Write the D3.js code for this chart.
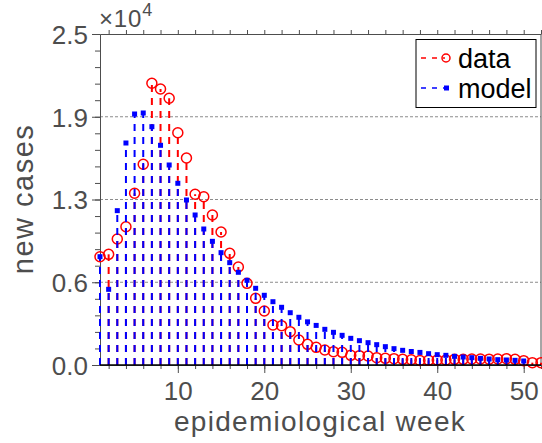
<!DOCTYPE html>
<html>
<head>
<meta charset="utf-8">
<script src="https://cdn.jsdelivr.net/npm/d3@7"></script>
<style>
    body { margin: 0; background: #fff; }
    svg { display: block; font-family: "Liberation Sans", Arial, sans-serif; }
</style>
</head>
<body>
<div id="chart"></div>
<script>
const width = 542;
const height = 443;
const margin = {top: 34, right: 1, bottom: 78, left: 100};

const weeks = d3.range(1, 53);
const dataCases = [8180, 8360, 9517, 10446, 12968, 15159, 21277, 20846, 20143, 17546,
    15635, 12893, 12712, 11330, 10045, 8435, 7402, 6170, 5036, 4079,
    3021, 2970, 2517, 1888, 1561, 1334, 1133, 1007, 957, 730,
    705, 680, 554, 503, 478, 428, 400, 340, 352, 378,
    378, 428, 428, 453, 453, 440, 453, 478, 428, 327,
    176, 176];
const modelCases = [8180, 5715, 11657, 16767, 18958, 19034, 18000, 16592, 15106, 13724,
    12462, 11330, 10272, 9340, 8485, 7730, 7002, 6397, 5793, 5265,
    4781, 4358, 3950, 3604, 3260, 2990, 2694, 2468, 2241, 2014,
    1838, 1687, 1536, 1385, 1234, 1108, 1020, 950, 856, 780,
    730, 654, 604, 554, 503, 453, 403, 378, 352, 302];
const yTicks = [0, 6250, 12500, 18750, 25000];
const yTickLabels = ["0.0", "0.6", "1.3", "1.9", "2.5"];
const xTicks = [10, 20, 30, 40, 50];

const textColor = "#4d4d4d";

const svg = d3.select("#chart").append("svg")
    .attr("width", width)
    .attr("height", height);

const x = d3.scaleLinear().domain([1, 52]).range([margin.left, width - margin.right]);
const y = d3.scaleLinear().domain([0, 25000]).range([height - margin.bottom, margin.top]);

// grid
svg.append("g")
    .selectAll("line")
    .data(yTicks.slice(1, -1))
    .enter()
    .append("line")
    .attr("x1", x(1)).attr("x2", x(52))
    .attr("y1", d => y(d)).attr("y2", d => y(d))
    .attr("stroke", "#8c8c8c")
    .attr("stroke-width", 1)
    .attr("stroke-dasharray", "3,2");

// axes
function styleAxis(g) {
    g.select(".domain").attr("stroke", textColor);
    g.selectAll(".tick line").attr("stroke", textColor);
    g.selectAll(".tick text").attr("fill", textColor).style("font-size", "26px");
}

svg.append("g")
    .attr("transform", `translate(${margin.left},0)`)
    .call(d3.axisLeft(y).tickValues(d3.range(0, 25001, 1250)).tickSize(5).tickSizeOuter(0).tickFormat(""))
    .call(styleAxis);
svg.append("g")
    .attr("transform", `translate(${margin.left},0)`)
    .call(d3.axisLeft(y).tickValues(yTicks).tickSize(8).tickSizeOuter(0)
        .tickFormat((d, i) => yTickLabels[i]).tickPadding(4))
    .call(styleAxis)
    .call(g => g.selectAll(".tick text").attr("dy", "0.36em"));

svg.append("g")
    .attr("transform", `translate(0,${y(0)})`)
    .call(d3.axisBottom(x).tickValues(d3.range(2, 53, 2)).tickSize(4).tickSizeOuter(0).tickFormat(""))
    .call(styleAxis);
svg.append("g")
    .attr("transform", `translate(0,${y(0)})`)
    .call(d3.axisBottom(x).tickValues(xTicks).tickSize(8).tickSizeOuter(0).tickPadding(9))
    .call(styleAxis)
    .call(g => g.select(".domain").remove());

svg.append("g")
    .attr("transform", `translate(0,${margin.top})`)
    .call(d3.axisTop(x).tickValues(d3.range(2, 53, 2)).tickSize(4).tickSizeOuter(0).tickFormat(""))
    .call(styleAxis);

svg.append("line")
    .attr("x1", x(52)).attr("x2", x(52))
    .attr("y1", y(0)).attr("y2", y(25000))
    .attr("stroke", textColor);

// stems
function drawStems(values, color) {
    svg.append("g")
        .selectAll("line")
        .data(values)
        .enter()
        .append("line")
        .attr("x1", (d, i) => x(weeks[i])).attr("x2", (d, i) => x(weeks[i]))
        .attr("y1", y(0)).attr("y2", d => y(d))
        .attr("stroke", color)
        .attr("stroke-width", 2)
        .attr("stroke-dasharray", "7,6");
}

drawStems(dataCases, "#ff0000");
svg.append("g")
    .selectAll("circle")
    .data(dataCases)
    .enter()
    .append("circle")
    .attr("cx", (d, i) => x(weeks[i]))
    .attr("cy", d => y(d))
    .attr("r", 5)
    .attr("fill", "none")
    .attr("stroke", "#ff0000")
    .attr("stroke-width", 1.5);

drawStems(modelCases, "#0000ff");
svg.append("g")
    .selectAll("rect")
    .data(modelCases)
    .enter()
    .append("rect")
    .attr("x", (d, i) => x(weeks[i]) - 2.5)
    .attr("y", d => y(d) - 2.5)
    .attr("width", 5)
    .attr("height", 5)
    .attr("fill", "#0000ff");

// baseline
svg.append("line")
    .attr("x1", x(1)).attr("x2", x(52))
    .attr("y1", y(0)).attr("y2", y(0))
    .attr("stroke", "#000")
    .attr("stroke-width", 1.5);

// exponent
const expo = svg.append("text")
    .attr("x", 99).attr("y", 27)
    .attr("fill", textColor)
    .style("font-size", "24px")
    .style("letter-spacing", "0.8px");
expo.append("tspan").text("×10");
expo.append("tspan").attr("dy", -11).style("font-size", "18px").text("4");

// axis labels
svg.append("text")
    .attr("x", 320).attr("y", 431)
    .attr("text-anchor", "middle")
    .attr("fill", textColor)
    .style("font-size", "28px")
    .style("letter-spacing", "1.3px")
    .text("epidemiological week");

svg.append("text")
    .attr("transform", "translate(33,199) rotate(-90)")
    .attr("text-anchor", "middle")
    .attr("fill", textColor)
    .style("font-size", "29px")
    .style("letter-spacing", "1.5px")
    .text("new cases");

// legend
const legend = svg.append("g");
legend.append("rect")
    .attr("x", 416).attr("y", 39.5)
    .attr("width", 120).attr("height", 68)
    .attr("fill", "#fff")
    .attr("stroke", "#000");

const legendItems = [
    {label: "data", color: "#ff0000", marker: "circle", cy: 58},
    {label: "model", color: "#0000ff", marker: "square", cy: 88}
];
legendItems.forEach(item => {
    legend.append("line")
        .attr("x1", 421).attr("x2", 445)
        .attr("y1", item.cy).attr("y2", item.cy)
        .attr("stroke", item.color)
        .attr("stroke-width", 1.5)
        .attr("stroke-dasharray", "5,6");
    if (item.marker === "circle") {
        legend.append("circle")
            .attr("cx", 446).attr("cy", item.cy).attr("r", 4)
            .attr("fill", "none").attr("stroke", item.color).attr("stroke-width", 1.5);
    } else {
        legend.append("rect")
            .attr("x", 444).attr("y", item.cy - 2.5)
            .attr("width", 5).attr("height", 5)
            .attr("fill", item.color);
    }
    legend.append("text")
        .attr("x", 458).attr("y", item.cy + 10)
        .attr("fill", "#000")
        .style("font-size", "27px")
        .text(item.label);
});
</script>
</body>
</html>
